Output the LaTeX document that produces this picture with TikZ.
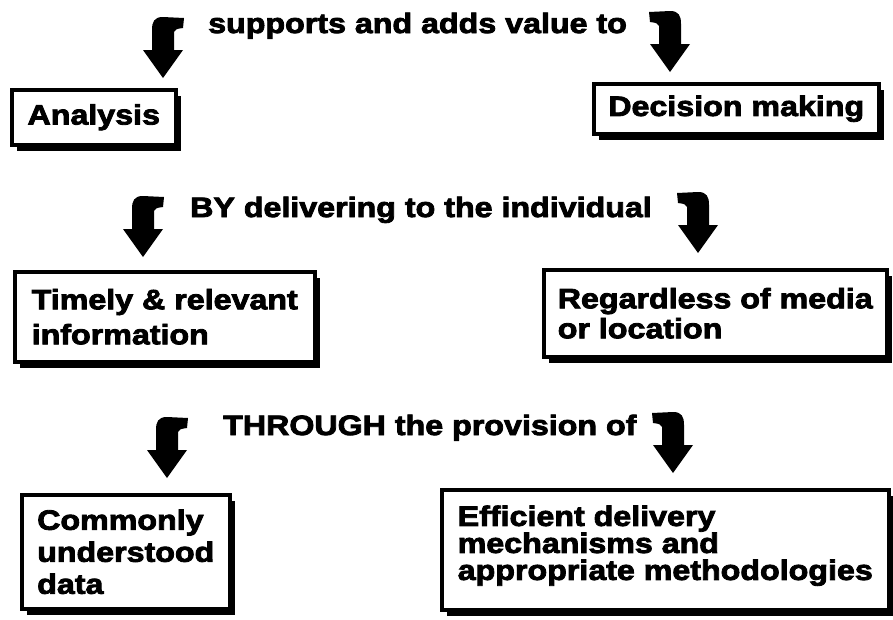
\documentclass[tikz,border=0pt]{standalone}
\usepackage{fontspec}
\setmainfont{Liberation Sans}[FakeStretch=1.15,BoldFeatures={FakeBold=3}]
\usepackage{tikz}
\usetikzlibrary{shadows}

\begin{document}
\begin{tikzpicture}[
		x=1pt, y=-1pt,
		lines/.style={font=\bfseries\fontsize{28}{#1}\selectfont},
		box/.style={draw, line width=3.5pt, fill=white, anchor=north west, align=left, inner sep=0pt,
			drop shadow={shadow xshift=5pt, shadow yshift=-6pt, opacity=1, fill=black}},
		head/.style={lines=33, anchor=base west, inner sep=0pt},
		hookarrow/.pic={\fill (0,0) -- (20,-28) -- (11,-28) -- (11,-46) .. controls (13,-49) .. (20,-50)
			-- (21,-60) -- (0,-61) .. controls (-9,-61) and (-11,-56) .. (-11,-48) -- (-11,-28) -- (-20,-28) -- cycle;}]
		\useasboundingbox (0,0) rectangle (893,619);

		\node[head] (sup) at (208,33) {supports and adds value to};
		\node[head] (by) at (190,217) {BY delivering to the individual};
		\node[head] (thr) at (223,435) {THROUGH the provision of};

		\node[box, lines=33, minimum width=164pt, minimum height=55pt] (ana) at (10,88) {Analysis};
		\node[box, lines=33, minimum width=285pt, minimum height=50pt] (dec) at (592,82) {Decision making};
		\node[box, lines=35, minimum width=300pt, minimum height=90pt] (tim) at (13,270) {Timely \& relevant\\information};
		\node[box, lines=30, minimum width=343pt, minimum height=87pt] (reg) at (542,268) {Regardless of media\\or location};
		\node[box, lines=32, minimum width=208pt, minimum height=114pt] (com) at (20,493) {Commonly\\understood\\data};
		\node[box, lines=27, minimum width=447pt, minimum height=120pt, text depth=14pt] (eff) at (440,488) {Efficient delivery\\mechanisms and\\appropriate methodologies};

		\pic at (163,78) {hookarrow};
		\pic[xscale=-1] at (670,72) {hookarrow};
		\pic at (143,257) {hookarrow};
		\pic[xscale=-1] at (698,253) {hookarrow};
		\pic at (167,478) {hookarrow};
		\pic[xscale=-1] at (673,473) {hookarrow};
\end{tikzpicture}
\end{document}
